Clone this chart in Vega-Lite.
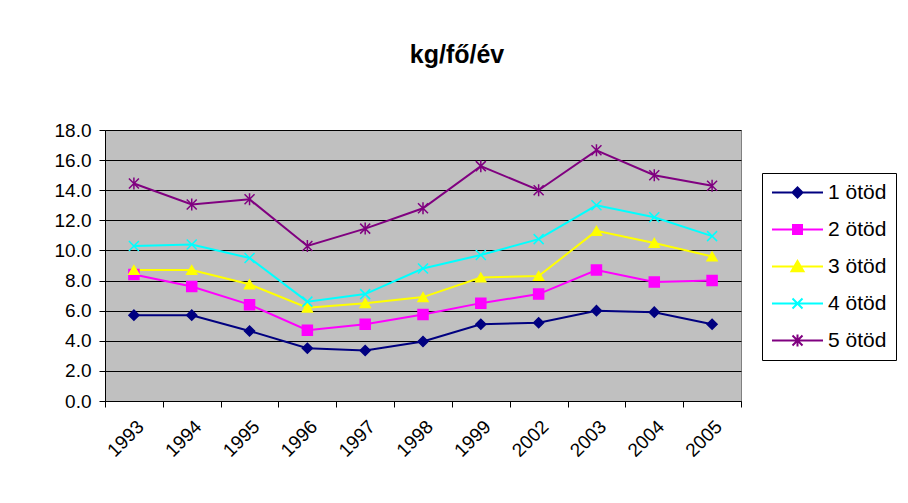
{
  "$schema": "https://vega.github.io/schema/vega-lite/v6.json",
  "width": 636,
  "height": 271,
  "autosize": {"type": "none"},
  "padding": {"left": 105, "top": 130, "right": 167, "bottom": 102},
  "background": "white",
  "title": {"text": "kg/fő/év", "font": "Liberation Sans", "fontSize": 25, "fontWeight": "bold", "anchor": "middle", "dx": 34, "offset": 53, "color": "black"},
  "data": {"values": [
    {"year": "1993", "series": "1 ötöd", "value": 5.7},
    {"year": "1994", "series": "1 ötöd", "value": 5.7},
    {"year": "1995", "series": "1 ötöd", "value": 4.65},
    {"year": "1996", "series": "1 ötöd", "value": 3.5},
    {"year": "1997", "series": "1 ötöd", "value": 3.35},
    {"year": "1998", "series": "1 ötöd", "value": 3.95},
    {"year": "1999", "series": "1 ötöd", "value": 5.1},
    {"year": "2002", "series": "1 ötöd", "value": 5.2},
    {"year": "2003", "series": "1 ötöd", "value": 6.0},
    {"year": "2004", "series": "1 ötöd", "value": 5.9},
    {"year": "2005", "series": "1 ötöd", "value": 5.1},
    {"year": "1993", "series": "2 ötöd", "value": 8.4},
    {"year": "1994", "series": "2 ötöd", "value": 7.6},
    {"year": "1995", "series": "2 ötöd", "value": 6.4},
    {"year": "1996", "series": "2 ötöd", "value": 4.7},
    {"year": "1997", "series": "2 ötöd", "value": 5.1},
    {"year": "1998", "series": "2 ötöd", "value": 5.75},
    {"year": "1999", "series": "2 ötöd", "value": 6.5},
    {"year": "2002", "series": "2 ötöd", "value": 7.1},
    {"year": "2003", "series": "2 ötöd", "value": 8.7},
    {"year": "2004", "series": "2 ötöd", "value": 7.9},
    {"year": "2005", "series": "2 ötöd", "value": 8.0},
    {"year": "1993", "series": "3 ötöd", "value": 8.7},
    {"year": "1994", "series": "3 ötöd", "value": 8.7},
    {"year": "1995", "series": "3 ötöd", "value": 7.75},
    {"year": "1996", "series": "3 ötöd", "value": 6.2},
    {"year": "1997", "series": "3 ötöd", "value": 6.5},
    {"year": "1998", "series": "3 ötöd", "value": 6.9},
    {"year": "1999", "series": "3 ötöd", "value": 8.2},
    {"year": "2002", "series": "3 ötöd", "value": 8.3},
    {"year": "2003", "series": "3 ötöd", "value": 11.3},
    {"year": "2004", "series": "3 ötöd", "value": 10.5},
    {"year": "2005", "series": "3 ötöd", "value": 9.6},
    {"year": "1993", "series": "4 ötöd", "value": 10.3},
    {"year": "1994", "series": "4 ötöd", "value": 10.4},
    {"year": "1995", "series": "4 ötöd", "value": 9.5},
    {"year": "1996", "series": "4 ötöd", "value": 6.6},
    {"year": "1997", "series": "4 ötöd", "value": 7.1},
    {"year": "1998", "series": "4 ötöd", "value": 8.8},
    {"year": "1999", "series": "4 ötöd", "value": 9.7},
    {"year": "2002", "series": "4 ötöd", "value": 10.75},
    {"year": "2003", "series": "4 ötöd", "value": 13.0},
    {"year": "2004", "series": "4 ötöd", "value": 12.2},
    {"year": "2005", "series": "4 ötöd", "value": 10.95},
    {"year": "1993", "series": "5 ötöd", "value": 14.45},
    {"year": "1994", "series": "5 ötöd", "value": 13.05},
    {"year": "1995", "series": "5 ötöd", "value": 13.4},
    {"year": "1996", "series": "5 ötöd", "value": 10.3},
    {"year": "1997", "series": "5 ötöd", "value": 11.45},
    {"year": "1998", "series": "5 ötöd", "value": 12.8},
    {"year": "1999", "series": "5 ötöd", "value": 15.6},
    {"year": "2002", "series": "5 ötöd", "value": 14.0},
    {"year": "2003", "series": "5 ötöd", "value": 16.65},
    {"year": "2004", "series": "5 ötöd", "value": 15.0},
    {"year": "2005", "series": "5 ötöd", "value": 14.3}
  ]},
  "encoding": {
    "x": {
      "field": "year", "type": "ordinal", "sort": null,
      "scale": {"type": "band", "paddingInner": 0, "paddingOuter": 0},
      "axis": {"title": null, "labelAngle": -45, "labelAlign": "right", "labelBaseline": "top", "labelFont": "Liberation Sans", "labelFontSize": 19, "labelColor": "black", "labelPadding": 10, "tickBand": "extent", "tickSize": 6, "tickColor": "black", "domainColor": "black", "grid": false}
    },
    "y": {
      "field": "value", "type": "quantitative",
      "scale": {"domain": [0, 18], "nice": false},
      "axis": {"title": null, "values": [0, 2, 4, 6, 8, 10, 12, 14, 16, 18], "format": ".1f", "labelFont": "Liberation Sans", "labelFontSize": 19, "labelColor": "black", "labelPadding": 8, "tickSize": 6, "tickColor": "black", "domainColor": "black", "grid": true, "gridColor": "black", "gridOpacity": 1, "gridWidth": 1}
    }
  },
  "layer": [
    {
      "mark": {"type": "line", "strokeWidth": 2},
      "encoding": {
        "color": {
          "field": "series", "type": "nominal",
          "scale": {"domain": ["1 ötöd", "2 ötöd", "3 ötöd", "4 ötöd", "5 ötöd"], "range": ["#000080", "#FF00FF", "#FFFF00", "#00FFFF", "#800080"]},
          "legend": null
        }
      }
    },
    {
      "mark": {"type": "point", "filled": false, "strokeWidth": 1.5, "opacity": 1, "size": 100},
      "encoding": {
        "color": {
          "field": "series", "type": "nominal",
          "scale": {"domain": ["1 ötöd", "2 ötöd", "3 ötöd", "4 ötöd", "5 ötöd"], "range": ["#000080", "#FF00FF", "#FFFF00", "#00FFFF", "#800080"]},
          "legend": null
        },
        "fill": {
          "field": "series", "type": "nominal",
          "scale": {"domain": ["1 ötöd", "2 ötöd", "3 ötöd", "4 ötöd", "5 ötöd"], "range": ["#000080", "#FF00FF", "#FFFF00", "#00FFFF", "#800080"]},
          "legend": null
        },
        "shape": {
          "field": "series", "type": "nominal",
          "scale": {"domain": ["1 ötöd", "2 ötöd", "3 ötöd", "4 ötöd", "5 ötöd"], "range": ["diamond", "square", "triangle-up", "M-1,-1L1,1M1,-1L-1,1", "M-1,-1L1,1M1,-1L-1,1M0,-1.2L0,1.2"]},
          "legend": null
        }
      }
    },
    {
      "transform": [{"filter": "datum.value < -100"}],
      "mark": {"type": "point", "filled": false, "strokeWidth": 2, "opacity": 1, "size": 100},
      "encoding": {
        "color": {
          "field": "series", "type": "nominal",
          "scale": {"domain": ["1 ötöd", "2 ötöd", "3 ötöd", "4 ötöd", "5 ötöd"], "range": ["#000080", "#FF00FF", "#FFFF00", "#00FFFF", "#800080"]}
        },
        "fill": {
          "field": "series", "type": "nominal",
          "scale": {"domain": ["1 ötöd", "2 ötöd", "3 ötöd", "4 ötöd", "5 ötöd"], "range": ["#000080", "#FF00FF", "#FFFF00", "#00FFFF", "#800080"]}
        },
        "shape": {
          "field": "series", "type": "nominal",
          "scale": {"domain": ["1 ötöd", "2 ötöd", "3 ötöd", "4 ötöd", "5 ötöd"], "range": ["M-5.1,0H5.1M-1,0L0,-1L1,0L0,1Z", "M-5.1,0H5.1M-0.9,-0.9H0.9V0.9H-0.9Z", "M-5.1,0H5.1M0,-1.1L1.2,0.95H-1.2Z", "M-5.1,0H5.1M-1,-1L1,1M1,-1L-1,1", "M-5.1,0H5.1M-1,-1L1,1M1,-1L-1,1M0,-1.2V1.2"]}
        }
      }
    }
  ],
  "resolve": {
    "scale": {"shape": "independent"},
    "legend": {"color": "independent", "fill": "independent", "shape": "independent"}
  },
  "config": {
    "view": {"fill": "#C0C0C0", "stroke": "#808080", "strokeWidth": 1},
    "axis": {"domainWidth": 1, "tickWidth": 1},
    "legend": {
      "orient": "none", "legendX": 657, "legendY": 43, "title": null,
      "strokeColor": "black", "padding": 9,
      "symbolSize": 100, "symbolStrokeWidth": 2, "symbolOffset": 16,
      "labelFont": "Liberation Sans", "labelFontSize": 21, "labelColor": "black", "labelOffset": 20,
      "rowPadding": 15
    }
  }
}
